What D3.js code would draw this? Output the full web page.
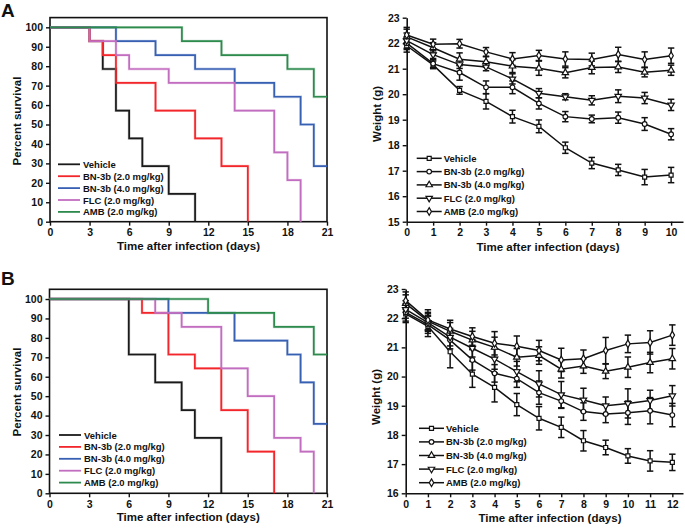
<!DOCTYPE html>
<html>
<head>
<meta charset="utf-8">
<script src="https://cdn.jsdelivr.net/npm/d3@7"></script>
<style>
  html, body { margin: 0; padding: 0; background: #fff; }
  svg { display: block; font-family: "Liberation Sans", Arial, sans-serif; }
</style>
</head>
<body>
<svg id="chart" width="685" height="528"></svg>
<script>
// ---------------- DATA ----------------
const seriesNames = ["Vehicle", "BN-3b (2.0 mg/kg)", "BN-3b (4.0 mg/kg)", "FLC (2.0 mg/kg)", "AMB (2.0 mg/kg)"];
const seriesColors = ["#1a1a1a", "#f2262b", "#3760b3", "#c26ec0", "#2e8b4e"];

// Survival panel A: [day, percent survival] at each change
const survA_vehicle = [[0,100],[3,92.86],[4,78.57],[5,57.14],[6,42.86],[7,28.57],[9,14.29],[11,0]];
const survA_bn2     = [[0,100],[3,92.86],[4,85.71],[5,71.43],[8,57.14],[11,42.86],[13,28.57],[15,0]];
const survA_bn4     = [[0,100],[5,92.86],[8,85.71],[11,78.57],[14,71.43],[17,64.29],[19,50],[20,28.57],[21,28.57]];
const survA_flc     = [[0,100],[3,92.86],[5,85.71],[6,78.57],[9,71.43],[14,57.14],[17,35.71],[18,21.43],[19,0]];
const survA_amb     = [[0,100],[10,92.86],[13,85.71],[18,78.57],[20,64.29],[21,64.29]];

// Survival panel B
const survB_vehicle = [[0,100],[6,71.43],[8,57.14],[10,42.86],[11,28.57],[13,0]];
const survB_bn2     = [[0,100],[7,92.86],[9,71.43],[11,64.29],[13,42.86],[15,21.43],[17,0]];
const survB_bn4     = [[0,100],[9,92.86],[14,78.57],[18,71.43],[19,57.14],[20,35.71],[21,35.71]];
const survB_flc     = [[0,100],[8,92.86],[10,85.71],[13,64.29],[15,50],[17,28.57],[19,21.43],[20,0]];
const survB_amb     = [[0,100],[12,92.86],[17,85.71],[20,71.43],[21,71.43]];

const survXTicks = [0,3,6,9,12,15,18,21];
const survYTicks = [0,10,20,30,40,50,60,70,80,90,100];

// Weight panel A (days 0..10), mean and SEM (g)
const weightA_days    = [0,1,2,3,4,5,6,7,8,9,10];
const weightA_vehicle = [21.9,21.15,20.15,19.72,19.12,18.74,17.9,17.3,17.03,16.75,16.83];
const weightA_bn2     = [22.0,21.2,20.85,20.27,20.27,19.64,19.12,19.03,19.08,18.83,18.43];
const weightA_bn4     = [22.25,21.82,21.37,21.27,21.1,21.02,20.84,21.05,21.07,20.86,20.94];
const weightA_flc     = [22.1,21.55,21.16,21.07,20.6,20.04,19.9,19.76,19.92,19.85,19.58];
const weightA_amb     = [22.32,21.96,21.98,21.66,21.38,21.52,21.38,21.36,21.56,21.36,21.51];
const weightA_vehicleErr = [0.25,0.15,0.15,0.3,0.25,0.25,0.22,0.22,0.22,0.3,0.3];
const weightA_bn2Err     = [0.25,0.15,0.3,0.25,0.25,0.22,0.2,0.15,0.22,0.25,0.22];
const weightA_bn4Err     = [0.3,0.2,0.25,0.2,0.25,0.28,0.2,0.25,0.22,0.18,0.2];
const weightA_flcErr     = [0.3,0.15,0.15,0.15,0.2,0.18,0.12,0.18,0.25,0.22,0.22];
const weightA_ambErr     = [0.3,0.2,0.17,0.17,0.25,0.2,0.28,0.25,0.28,0.3,0.3];

// Weight panel B (days 0..12)
const weightB_days    = [0,1,2,3,4,5,6,7,8,9,10,11,12];
const weightB_vehicle = [22.15,21.72,20.85,20.08,19.63,19.04,18.57,18.26,17.8,17.57,17.28,17.11,17.06];
const weightB_bn2     = [22.2,21.78,21.25,20.57,20.11,19.93,19.45,19.16,18.8,18.72,18.76,18.83,18.68];
const weightB_bn4     = [22.5,21.9,21.55,21.25,21.0,20.66,20.72,20.25,20.36,20.18,20.32,20.48,20.61];
const weightB_flc     = [22.3,21.85,21.35,20.97,20.6,20.17,19.75,19.38,19.2,19.0,19.08,19.18,19.34];
const weightB_amb     = [22.6,21.94,21.63,21.37,21.14,21.04,20.89,20.57,20.61,20.89,21.12,21.17,21.42];
const weightB_vehicleErr = [0.3,0.35,0.55,0.45,0.5,0.38,0.4,0.35,0.35,0.25,0.25,0.35,0.28];
const weightB_bn2Err     = [0.3,0.3,0.3,0.35,0.3,0.3,0.4,0.25,0.3,0.3,0.4,0.45,0.4];
const weightB_bn4Err     = [0.3,0.3,0.3,0.3,0.35,0.3,0.3,0.3,0.25,0.25,0.35,0.35,0.35];
const weightB_flcErr     = [0.3,0.3,0.3,0.3,0.35,0.35,0.45,0.45,0.4,0.3,0.5,0.35,0.35];
const weightB_ambErr     = [0.3,0.35,0.3,0.3,0.4,0.35,0.35,0.4,0.3,0.45,0.3,0.4,0.35];

const weightA_yTicks = [15,16,17,18,19,20,21,22,23];
const weightB_yTicks = [16,17,18,19,20,21,22,23];

const xTitle = "Time after infection (days)";

// ---------------- DRAWING ----------------
const svg = d3.select("#chart");
const symbolTypes = [d3.symbolSquare, d3.symbolCircle, d3.symbolTriangle, "down", d3.symbolDiamond];
const symbolSizes = [16, 17, 18, 18, 17];

function styleAxis(g) {
  g.selectAll(".domain").attr("stroke", "#111").attr("stroke-width", 1.6);
  g.selectAll(".tick line").attr("stroke", "#111").attr("stroke-width", 1.4);
  g.selectAll(".tick text").attr("fill", "#111").attr("font-size", 10.5).attr("font-weight", "bold");
}

function markerPath(i) {
  if (symbolTypes[i] === "down") return d3.symbol(d3.symbolTriangle, symbolSizes[i])();
  return d3.symbol(symbolTypes[i], symbolSizes[i])();
}

function survivalPanel(opts) {
  const x = d3.scaleLinear().domain([0, 21]).range([opts.x0, opts.x1]);
  const y = d3.scaleLinear().domain([0, 105]).range([opts.y0, opts.y1]);
  const g = svg.append("g");

  g.append("rect").attr("x", x(0)).attr("y", y(105)).attr("width", x(21) - x(0)).attr("height", y(0) - y(105))
    .attr("fill", "none").attr("stroke", "#111").attr("stroke-width", 1.6);

  const line = d3.line().x(d => x(d[0])).y(d => y(d[1])).curve(d3.curveStepAfter);
  opts.data.forEach((s, i) => {
    g.append("path").attr("d", line(s)).attr("fill", "none")
      .attr("stroke", seriesColors[i]).attr("stroke-width", 2.8).attr("stroke-opacity", 0.25);
    g.append("path").attr("d", line(s)).attr("fill", "none")
      .attr("stroke", seriesColors[i]).attr("stroke-width", 1.7);
  });

  const xa = g.append("g").attr("transform", `translate(0,${y(0)})`)
    .call(d3.axisBottom(x).tickValues(survXTicks).tickSize(4).tickPadding(3).tickSizeOuter(0));
  styleAxis(xa);
  const ya = g.append("g").attr("transform", `translate(${x(0)},0)`)
    .call(d3.axisLeft(y).tickValues(survYTicks).tickSize(4).tickPadding(3).tickSizeOuter(0));
  styleAxis(ya);
  ya.select(".domain").remove();
  xa.select(".domain").remove();

  g.append("text").attr("x", (x(0) + x(21)) / 2).attr("y", opts.xTitleY).attr("text-anchor", "middle")
    .attr("font-size", 11.5).attr("font-weight", "bold").attr("fill", "#111").text(xTitle);
  g.append("text").attr("transform", `translate(${opts.yTitleX},${opts.yTitleC}) rotate(-90)`)
    .attr("text-anchor", "middle").attr("font-size", 11.5).attr("font-weight", "bold").attr("fill", "#111")
    .text("Percent survival");

  seriesNames.forEach((n, i) => {
    const ly = opts.legY + i * opts.legDy;
    g.append("line").attr("x1", opts.legX).attr("x2", opts.legX + 22).attr("y1", ly).attr("y2", ly)
      .attr("stroke", seriesColors[i]).attr("stroke-width", 1.8);
    g.append("text").attr("x", opts.legX + 25).attr("y", ly + 3.5).attr("font-size", 9.5).attr("font-weight", "bold")
      .attr("fill", "#111").text(n);
  });
}

function weightPanel(opts) {
  const x = d3.scaleLinear().domain([0, opts.xMax]).range([opts.x0, opts.x1]);
  const y = d3.scaleLinear().domain([opts.yMin, 23]).range([opts.y0, opts.y1]);
  const g = svg.append("g");

  const xa = g.append("g").attr("transform", `translate(0,${y(opts.yMin)})`)
    .call(d3.axisBottom(x).tickValues(opts.days).tickFormat(d3.format("d")).tickSize(4).tickPadding(3).tickSizeOuter(0));
  styleAxis(xa);
  const ya = g.append("g").attr("transform", `translate(${x(0)},0)`)
    .call(d3.axisLeft(y).tickValues(opts.yTicks).tickFormat(d3.format("d")).tickSize(4).tickPadding(3).tickSizeOuter(0));
  styleAxis(ya);

  const line = d3.line().x((d, j) => x(opts.days[j])).y(d => y(d));
  opts.means.forEach((m, i) => {
    m.forEach((v, j) => {
      const e = opts.errs[i][j], cx = x(opts.days[j]);
      g.append("line").attr("x1", cx).attr("x2", cx).attr("y1", y(v - e)).attr("y2", y(v + e))
        .attr("stroke", "#111").attr("stroke-width", 1.5);
      [v - e, v + e].forEach(b => g.append("line").attr("x1", cx - 3.2).attr("x2", cx + 3.2)
        .attr("y1", y(b)).attr("y2", y(b)).attr("stroke", "#111").attr("stroke-width", 1.5));
    });
  });
  opts.means.forEach((m) => {
    g.append("path").attr("d", line(m)).attr("fill", "none").attr("stroke", "#111").attr("stroke-width", 1.5);
  });
  opts.means.forEach((m, i) => {
    m.forEach((v, j) => {
      g.append("path").attr("d", markerPath(i))
        .attr("transform", `translate(${x(opts.days[j])},${y(v)})${symbolTypes[i] === "down" ? " rotate(180)" : ""}`)
        .attr("fill", "#fff").attr("stroke", "#111").attr("stroke-width", 1.2);
    });
  });

  g.append("text").attr("x", opts.xTitleX).attr("y", opts.xTitleY).attr("text-anchor", "middle")
    .attr("font-size", 11.5).attr("font-weight", "bold").attr("fill", "#111").text(xTitle);
  g.append("text").attr("transform", `translate(${opts.yTitleX},${opts.yTitleC}) rotate(-90)`)
    .attr("text-anchor", "middle").attr("font-size", 11.5).attr("font-weight", "bold").attr("fill", "#111")
    .text("Weight (g)");

  seriesNames.forEach((n, i) => {
    const ly = opts.legY + i * opts.legDy;
    g.append("line").attr("x1", opts.legX).attr("x2", opts.legX + 25).attr("y1", ly).attr("y2", ly)
      .attr("stroke", "#111").attr("stroke-width", 1.5);
    g.append("path").attr("d", markerPath(i))
      .attr("transform", `translate(${opts.legX + 12.5},${ly})${symbolTypes[i] === "down" ? " rotate(180)" : ""}`)
      .attr("fill", "#fff").attr("stroke", "#111").attr("stroke-width", 1.2);
    g.append("text").attr("x", opts.legX + 27).attr("y", ly + 3.5).attr("font-size", 9.5).attr("font-weight", "bold")
      .attr("fill", "#111").text(n);
  });
}

svg.append("text").attr("x", 1).attr("y", 17).attr("font-size", 19).attr("font-weight", "bold").attr("fill", "#111").text("A");
svg.append("text").attr("x", 1).attr("y", 285).attr("font-size", 19).attr("font-weight", "bold").attr("fill", "#111").text("B");

survivalPanel({
  x0: 50, x1: 327, y0: 221.7, y1: 17.6,
  data: [survA_vehicle, survA_bn2, survA_bn4, survA_flc, survA_amb],
  xTitleY: 250, yTitleX: 21, yTitleC: 121,
  legX: 58, legY: 164.3, legDy: 11.9
});
survivalPanel({
  x0: 49.5, x1: 327, y0: 493.3, y1: 289.3,
  data: [survB_vehicle, survB_bn2, survB_bn4, survB_flc, survB_amb],
  xTitleY: 521, yTitleX: 21, yTitleC: 392,
  legX: 59, legY: 435, legDy: 11.9
});
weightPanel({
  days: weightA_days, xMax: 10.45, x0: 406.7, x1: 683,
  yMin: 15, y0: 221.7, y1: 17.7, yTicks: weightA_yTicks,
  means: [weightA_vehicle, weightA_bn2, weightA_bn4, weightA_flc, weightA_amb],
  errs: [weightA_vehicleErr, weightA_bn2Err, weightA_bn4Err, weightA_flcErr, weightA_ambErr],
  xTitleX: 548, xTitleY: 251, yTitleX: 381, yTitleC: 114,
  legX: 416.7, legY: 158.3, legDy: 13.3
});
weightPanel({
  days: weightB_days, xMax: 12.48, x0: 405.7, x1: 683,
  yMin: 16, y0: 493.3, y1: 289, yTicks: weightB_yTicks,
  means: [weightB_vehicle, weightB_bn2, weightB_bn4, weightB_flc, weightB_amb],
  errs: [weightB_vehicleErr, weightB_bn2Err, weightB_bn4Err, weightB_flcErr, weightB_ambErr],
  xTitleX: 550, xTitleY: 522, yTitleX: 380, yTitleC: 397,
  legX: 419, legY: 428.3, legDy: 13.6
});
</script>
</body>
</html>
